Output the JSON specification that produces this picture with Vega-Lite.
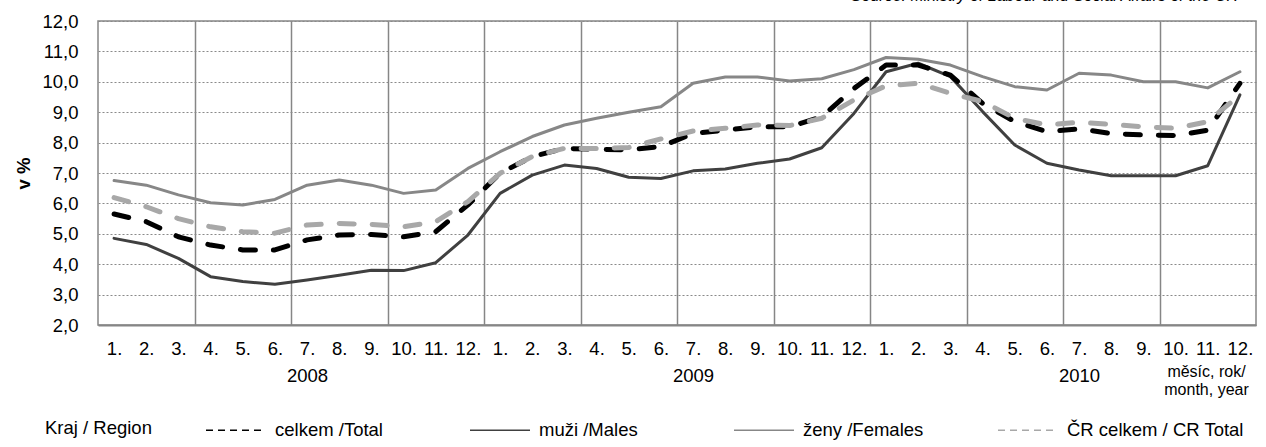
{
  "$schema": "https://vega.github.io/schema/vega-lite/v6.json",
  "width": 1158,
  "height": 304,
  "autosize": {"type": "none"},
  "padding": {"left": 98, "top": 21, "right": 10, "bottom": 122},
  "background": "white",
  "title": {"text": "Source: Ministry of Labour and Social Affairs of the CR", "anchor": "end", "orient": "top", "font": "Liberation Sans", "fontStyle": "italic", "fontWeight": "normal", "fontSize": 16, "color": "#000000", "offset": 8, "dx": -18},
  "config": {"font": "Liberation Sans", "view": {"stroke": "#868686", "strokeWidth": 1.5}},
  "data": {"values": [
    {"s": "celkem /Total", "m": 0, "v": 5.65}, {"s": "celkem /Total", "m": 1, "v": 5.4}, {"s": "celkem /Total", "m": 2, "v": 4.9}, {"s": "celkem /Total", "m": 3, "v": 4.63}, {"s": "celkem /Total", "m": 4, "v": 4.47}, {"s": "celkem /Total", "m": 5, "v": 4.47},
    {"s": "celkem /Total", "m": 6, "v": 4.8}, {"s": "celkem /Total", "m": 7, "v": 4.96}, {"s": "celkem /Total", "m": 8, "v": 4.98}, {"s": "celkem /Total", "m": 9, "v": 4.9}, {"s": "celkem /Total", "m": 10, "v": 5.07}, {"s": "celkem /Total", "m": 11, "v": 5.95},
    {"s": "celkem /Total", "m": 12, "v": 6.99}, {"s": "celkem /Total", "m": 13, "v": 7.54}, {"s": "celkem /Total", "m": 14, "v": 7.81}, {"s": "celkem /Total", "m": 15, "v": 7.78}, {"s": "celkem /Total", "m": 16, "v": 7.76}, {"s": "celkem /Total", "m": 17, "v": 7.87},
    {"s": "celkem /Total", "m": 18, "v": 8.3}, {"s": "celkem /Total", "m": 19, "v": 8.41}, {"s": "celkem /Total", "m": 20, "v": 8.52}, {"s": "celkem /Total", "m": 21, "v": 8.52}, {"s": "celkem /Total", "m": 22, "v": 8.85}, {"s": "celkem /Total", "m": 23, "v": 9.78},
    {"s": "celkem /Total", "m": 24, "v": 10.55}, {"s": "celkem /Total", "m": 25, "v": 10.55}, {"s": "celkem /Total", "m": 26, "v": 10.22}, {"s": "celkem /Total", "m": 27, "v": 9.29}, {"s": "celkem /Total", "m": 28, "v": 8.69}, {"s": "celkem /Total", "m": 29, "v": 8.36},
    {"s": "celkem /Total", "m": 30, "v": 8.45}, {"s": "celkem /Total", "m": 31, "v": 8.3}, {"s": "celkem /Total", "m": 32, "v": 8.25}, {"s": "celkem /Total", "m": 33, "v": 8.23}, {"s": "celkem /Total", "m": 34, "v": 8.41}, {"s": "celkem /Total", "m": 35, "v": 9.95},
    {"s": "muži /Males", "m": 0, "v": 4.85}, {"s": "muži /Males", "m": 1, "v": 4.65}, {"s": "muži /Males", "m": 2, "v": 4.19}, {"s": "muži /Males", "m": 3, "v": 3.59}, {"s": "muži /Males", "m": 4, "v": 3.43}, {"s": "muži /Males", "m": 5, "v": 3.34},
    {"s": "muži /Males", "m": 6, "v": 3.48}, {"s": "muži /Males", "m": 7, "v": 3.64}, {"s": "muži /Males", "m": 8, "v": 3.8}, {"s": "muži /Males", "m": 9, "v": 3.79}, {"s": "muži /Males", "m": 10, "v": 4.05}, {"s": "muži /Males", "m": 11, "v": 4.96},
    {"s": "muži /Males", "m": 12, "v": 6.33}, {"s": "muži /Males", "m": 13, "v": 6.93}, {"s": "muži /Males", "m": 14, "v": 7.26}, {"s": "muži /Males", "m": 15, "v": 7.15}, {"s": "muži /Males", "m": 16, "v": 6.86}, {"s": "muži /Males", "m": 17, "v": 6.82},
    {"s": "muži /Males", "m": 18, "v": 7.07}, {"s": "muži /Males", "m": 19, "v": 7.13}, {"s": "muži /Males", "m": 20, "v": 7.32}, {"s": "muži /Males", "m": 21, "v": 7.46}, {"s": "muži /Males", "m": 22, "v": 7.83}, {"s": "muži /Males", "m": 23, "v": 8.96},
    {"s": "muži /Males", "m": 24, "v": 10.33}, {"s": "muži /Males", "m": 25, "v": 10.61}, {"s": "muži /Males", "m": 26, "v": 10.17}, {"s": "muži /Males", "m": 27, "v": 9.02}, {"s": "muži /Males", "m": 28, "v": 7.92}, {"s": "muži /Males", "m": 29, "v": 7.32},
    {"s": "muži /Males", "m": 30, "v": 7.1}, {"s": "muži /Males", "m": 31, "v": 6.91}, {"s": "muži /Males", "m": 32, "v": 6.91}, {"s": "muži /Males", "m": 33, "v": 6.91}, {"s": "muži /Males", "m": 34, "v": 7.24}, {"s": "muži /Males", "m": 35, "v": 9.57},
    {"s": "ženy /Females", "m": 0, "v": 6.75}, {"s": "ženy /Females", "m": 1, "v": 6.6}, {"s": "ženy /Females", "m": 2, "v": 6.28}, {"s": "ženy /Females", "m": 3, "v": 6.02}, {"s": "ženy /Females", "m": 4, "v": 5.95}, {"s": "ženy /Females", "m": 5, "v": 6.13},
    {"s": "ženy /Females", "m": 6, "v": 6.6}, {"s": "ženy /Females", "m": 7, "v": 6.77}, {"s": "ženy /Females", "m": 8, "v": 6.6}, {"s": "ženy /Females", "m": 9, "v": 6.33}, {"s": "ženy /Females", "m": 10, "v": 6.44}, {"s": "ženy /Females", "m": 11, "v": 7.15},
    {"s": "ženy /Females", "m": 12, "v": 7.7}, {"s": "ženy /Females", "m": 13, "v": 8.2}, {"s": "ženy /Females", "m": 14, "v": 8.58}, {"s": "ženy /Females", "m": 15, "v": 8.8}, {"s": "ženy /Females", "m": 16, "v": 9.0}, {"s": "ženy /Females", "m": 17, "v": 9.18},
    {"s": "ženy /Females", "m": 18, "v": 9.95}, {"s": "ženy /Females", "m": 19, "v": 10.16}, {"s": "ženy /Females", "m": 20, "v": 10.16}, {"s": "ženy /Females", "m": 21, "v": 10.03}, {"s": "ženy /Females", "m": 22, "v": 10.1}, {"s": "ženy /Females", "m": 23, "v": 10.4},
    {"s": "ženy /Females", "m": 24, "v": 10.8}, {"s": "ženy /Females", "m": 25, "v": 10.74}, {"s": "ženy /Females", "m": 26, "v": 10.55}, {"s": "ženy /Females", "m": 27, "v": 10.17}, {"s": "ženy /Females", "m": 28, "v": 9.84}, {"s": "ženy /Females", "m": 29, "v": 9.73},
    {"s": "ženy /Females", "m": 30, "v": 10.28}, {"s": "ženy /Females", "m": 31, "v": 10.22}, {"s": "ženy /Females", "m": 32, "v": 10.0}, {"s": "ženy /Females", "m": 33, "v": 10.0}, {"s": "ženy /Females", "m": 34, "v": 9.8}, {"s": "ženy /Females", "m": 35, "v": 10.33},
    {"s": "ČR celkem / CR Total", "m": 0, "v": 6.19}, {"s": "ČR celkem / CR Total", "m": 1, "v": 5.89}, {"s": "ČR celkem / CR Total", "m": 2, "v": 5.5}, {"s": "ČR celkem / CR Total", "m": 3, "v": 5.23}, {"s": "ČR celkem / CR Total", "m": 4, "v": 5.07}, {"s": "ČR celkem / CR Total", "m": 5, "v": 5.02},
    {"s": "ČR celkem / CR Total", "m": 6, "v": 5.29}, {"s": "ČR celkem / CR Total", "m": 7, "v": 5.34}, {"s": "ČR celkem / CR Total", "m": 8, "v": 5.31}, {"s": "ČR celkem / CR Total", "m": 9, "v": 5.23}, {"s": "ČR celkem / CR Total", "m": 10, "v": 5.4}, {"s": "ČR celkem / CR Total", "m": 11, "v": 6.06},
    {"s": "ČR celkem / CR Total", "m": 12, "v": 6.99}, {"s": "ČR celkem / CR Total", "m": 13, "v": 7.54}, {"s": "ČR celkem / CR Total", "m": 14, "v": 7.81}, {"s": "ČR celkem / CR Total", "m": 15, "v": 7.81}, {"s": "ČR celkem / CR Total", "m": 16, "v": 7.84}, {"s": "ČR celkem / CR Total", "m": 17, "v": 8.12},
    {"s": "ČR celkem / CR Total", "m": 18, "v": 8.38}, {"s": "ČR celkem / CR Total", "m": 19, "v": 8.47}, {"s": "ČR celkem / CR Total", "m": 20, "v": 8.58}, {"s": "ČR celkem / CR Total", "m": 21, "v": 8.56}, {"s": "ČR celkem / CR Total", "m": 22, "v": 8.8}, {"s": "ČR celkem / CR Total", "m": 23, "v": 9.4},
    {"s": "ČR celkem / CR Total", "m": 24, "v": 9.87}, {"s": "ČR celkem / CR Total", "m": 25, "v": 9.95}, {"s": "ČR celkem / CR Total", "m": 26, "v": 9.62}, {"s": "ČR celkem / CR Total", "m": 27, "v": 9.35}, {"s": "ČR celkem / CR Total", "m": 28, "v": 8.8}, {"s": "ČR celkem / CR Total", "m": 29, "v": 8.58},
    {"s": "ČR celkem / CR Total", "m": 30, "v": 8.67}, {"s": "ČR celkem / CR Total", "m": 31, "v": 8.6}, {"s": "ČR celkem / CR Total", "m": 32, "v": 8.52}, {"s": "ČR celkem / CR Total", "m": 33, "v": 8.47}, {"s": "ČR celkem / CR Total", "m": 34, "v": 8.69}, {"s": "ČR celkem / CR Total", "m": 35, "v": 9.57}
  ]},
  "encoding": {
    "x": {"field": "m", "type": "quantitative", "scale": {"domain": [-0.5, 35.5], "nice": false, "zero": false},
      "axis": {"values": [0,1,2,2.5,3,4,5,5.5,6,7,8,8.5,9,10,11,11.5,12,13,14,14.5,15,16,17,17.5,18,19,20,20.5,21,22,23,23.5,24,25,26,26.5,27,28,29,29.5,30,31,32,32.5,33,34,35],
        "labelExpr": "datum.value % 1 != 0 ? '' : (datum.value % 12 == 6 ? ['7.', '' + (2008 + floor(datum.value / 12))] : (datum.value % 12 + 1) + '.')",
        "title": ["měsíc, rok/", "month, year"], "ticks": false, "domainColor": "#868686", "domainWidth": 2,
        "grid": true, "gridColor": "#868686", "gridWidth": 1.5, "gridOpacity": {"condition": {"test": "datum.value % 1 != 0", "value": 1}, "value": 0},
        "labelFontSize": 18.5, "labelPadding": 14, "labelLineHeight": 27, "labelOverlap": false, "labelColor": "#000000", "labelFlush": false,
        "titleFontSize": 16, "titleFontWeight": "normal", "titleX": 1108, "titleY": 38, "titleAlign": "center", "titleBaseline": "top", "titleLineHeight": 18, "titleColor": "#000000"}},
    "y": {"field": "v", "type": "quantitative", "scale": {"domain": [2, 12], "nice": false, "zero": false},
      "axis": {"values": [2,3,4,5,6,7,8,9,10,11,12], "format": ".1f", "labelExpr": "replace(datum.label, '.', ',')",
        "title": "v %", "titleFontSize": 18.5, "titleFontWeight": "bold", "titlePadding": 8, "titleColor": "#000000",
        "labelFontSize": 18.5, "labelPadding": 20, "labelColor": "#000000", "ticks": false, "domain": false,
        "gridColor": "#8a8a8a", "gridDash": [2, 2], "gridWidth": 1.2}},
    "color": {"field": "s", "type": "nominal",
      "scale": {"domain": ["celkem /Total", "muži /Males", "ženy /Females", "ČR celkem / CR Total"], "range": ["#000000", "#404040", "#878787", "#a8a8a8"]},
      "legend": {"orient": "none", "legendX": -53, "legendY": 378, "direction": "horizontal", "title": "Kraj / Region", "titleOrient": "left",
        "titleAnchor": "middle", "titleBaseline": "top",
        "titleFontSize": 18.5, "titleFontWeight": "normal", "titlePadding": 53, "titleColor": "#000000", "titleLimit": 400,
        "labelFontSize": 18.5, "labelColor": "#000000", "labelOffset": 8, "labelLimit": 400, "gridAlign": "all",
        "symbolType": "stroke", "symbolSize": 3600, "symbolStrokeWidth": 1.5, "columnPadding": 15,
        "encode": {"symbols": {"update": {"strokeDash": {"signal": "datum.value == 'celkem /Total' || datum.value == 'ČR celkem / CR Total' ? [7, 5] : [1, 0]"}, "strokeWidth": {"value": 1.5}}}}}}
  },
  "layer": [
    {"transform": [{"filter": "datum.s == 'ženy /Females'"}], "mark": {"type": "line", "strokeWidth": 3, "strokeCap": "round", "strokeJoin": "round"}},
    {"transform": [{"filter": "datum.s == 'muži /Males'"}], "mark": {"type": "line", "strokeWidth": 3, "strokeCap": "round", "strokeJoin": "round"}},
    {"transform": [{"filter": "datum.s == 'celkem /Total'"}], "mark": {"type": "line", "strokeWidth": 5, "strokeDash": [15, 18], "strokeCap": "round", "strokeJoin": "round"}},
    {"transform": [{"filter": "datum.s == 'ČR celkem / CR Total'"}], "mark": {"type": "line", "strokeWidth": 5, "strokeDash": [15, 18], "strokeCap": "round", "strokeJoin": "round"}}
  ]
}
